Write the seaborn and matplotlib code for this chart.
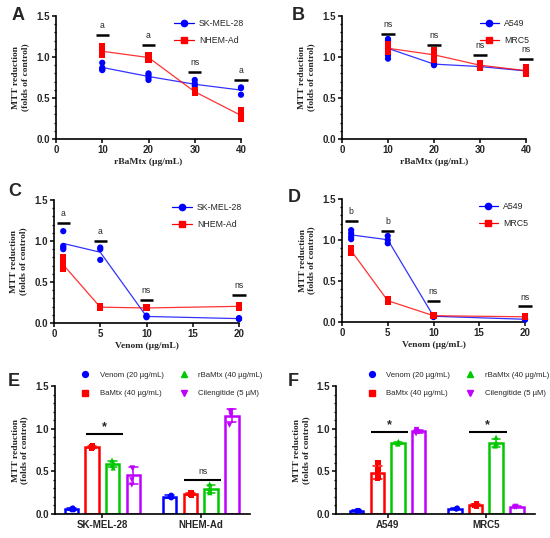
import matplotlib
matplotlib.use("Agg")
import matplotlib.pyplot as plt
import seaborn as sns
import pandas as pd
from matplotlib.lines import Line2D
from matplotlib.ticker import MultipleLocator, FormatStrFormatter

sns.set_theme(style="ticks")
plt.rcParams['font.family'] = ['Liberation Sans', 'DejaVu Sans']
plt.rcParams['font.weight'] = 'bold'

BLUE = "#0000FF"
RED = "#FF0000"
GREEN = "#00C800"
PURPLE = "#C000FF"

# ---- panel A: rBaMtx dose, melanoma ----
a_dose = [10, 20, 30, 40]
a_skmel = [[0.93, 0.87, 0.85, 0.84], [0.80, 0.78, 0.75, 0.72], [0.72, 0.68, 0.65, 0.62], [0.63, 0.62, 0.54]]
a_nhem = [[1.13, 1.07, 1.05, 1.03], [1.02, 0.99, 0.97], [0.60, 0.57, 0.56], [0.35, 0.30, 0.26, 0.24]]
a_sig_y = [1.27, 1.15, 0.82, 0.72]
a_sig = ['a', 'a', 'ns', 'a']

# ---- panel B: rBaMtx dose, lung ----
b_dose = [10, 20, 30, 40]
b_a549 = [[1.22, 1.20, 1.02, 0.98], [0.93, 0.91, 0.90], [0.90, 0.88, 0.87], [0.86, 0.83, 0.80]]
b_mrc5 = [[1.16, 1.10, 1.06], [1.09, 1.02, 0.97], [0.93, 0.90, 0.87], [0.88, 0.82, 0.80]]
b_sig_y = [1.28, 1.15, 1.02, 0.98]
b_sig = ['ns', 'ns', 'ns', 'ns']

# ---- panel C: venom dose, melanoma ----
c_dose = [1, 5, 10, 20]
c_skmel = [[1.12, 0.94, 0.92, 0.90], [0.92, 0.90, 0.77], [0.09, 0.08, 0.07], [0.06, 0.05, 0.05]]
c_nhem = [[0.80, 0.72, 0.66, 0.66], [0.20, 0.19, 0.19], [0.19, 0.18, 0.18], [0.22, 0.20, 0.19]]
c_sig_y = [1.22, 1.00, 0.28, 0.34]
c_sig = ['a', 'a', 'ns', 'ns']

# ---- panel D: venom dose, lung ----
d_dose = [1, 5, 10, 20]
d_a549 = [[1.12, 1.08, 1.04, 1.01], [1.05, 1.00, 0.96], [0.08, 0.07, 0.06], [0.04, 0.03, 0.03]]
d_mrc5 = [[0.90, 0.87, 0.84], [0.28, 0.26, 0.24], [0.08, 0.08, 0.07], [0.07, 0.06, 0.06]]
d_sig_y = [1.23, 1.11, 0.26, 0.19]
d_sig = ['b', 'b', 'ns', 'ns']

# ---- panels E/F: treatments ----
treats = ['Venom (20 µg/mL)', 'BaMtx (40 µg/mL)', 'rBaMtx (40 µg/mL)', 'Cilengitide (5 µM)']
treat_colors = [BLUE, RED, GREEN, PURPLE]
treat_markers = ['o', 's', '^', 'v']

e_cells = ['SK-MEL-28', 'NHEM-Ad']
e_vals = {
    'SK-MEL-28': [[0.07, 0.06, 0.05, 0.05], [0.80, 0.79, 0.78, 0.77], [0.63, 0.60, 0.57, 0.54], [0.54, 0.53, 0.40, 0.34]],
    'NHEM-Ad': [[0.22, 0.21, 0.20, 0.19], [0.25, 0.24, 0.23, 0.22], [0.35, 0.30, 0.27, 0.25], [1.21, 1.20, 1.16, 1.04]],
}
e_sig_y = [0.94, 0.40]
e_sig = ['*', 'ns']

f_cells = ['A549', 'MRC5']
f_vals = {
    'A549': [[0.04, 0.04, 0.03], [0.60, 0.52, 0.46, 0.43, 0.42], [0.85, 0.84, 0.83, 0.82], [0.99, 0.98, 0.96, 0.94]],
    'MRC5': [[0.07, 0.06, 0.06], [0.12, 0.10, 0.09], [0.90, 0.83, 0.80, 0.80], [0.09, 0.08, 0.08]],
}
f_sig_y = [0.96, 0.96]
f_sig = ['*', '*']

W, H = 550, 538
fig = plt.figure(figsize=(W / 100, H / 100), dpi=100)
LEG_FONT = {'family': 'Liberation Sans', 'weight': 'normal'}


def add_ax(left, top, right, bottom):
    return fig.add_axes([left / W, 1 - bottom / H, (right - left) / W, (bottom - top) / H])


def style_ax(ax, lab_x):
    sns.despine(ax=ax)
    for s in ['left', 'bottom']:
        ax.spines[s].set_linewidth(1.2)
        ax.spines[s].set_color('black')
    ax.tick_params(axis='both', which='major', length=3, width=1.1, labelsize=7, pad=1.5, color='black')
    ax.tick_params(axis='y', which='minor', length=1.8, width=0.9, color='black')
    ax.set_ylim(0, 1.5)
    ax.yaxis.set_major_locator(MultipleLocator(0.5))
    ax.yaxis.set_minor_locator(MultipleLocator(0.1))
    ax.yaxis.set_major_formatter(FormatStrFormatter('%.1f'))
    ax.set_ylabel('MTT reduction\n(folds of control)', family=['Liberation Serif'],
                  fontweight='bold', fontsize=6.8, linespacing=1.15)
    ax.yaxis.set_label_coords(lab_x, 0.5)
    ax.set_facecolor('none')


def dose_panel(ax, dose, s1, s2, names, sig_y, sig, half, xlabel, xlim, xticks):
    rows = []
    for name, series in zip(names, [s1, s2]):
        for d, reps in zip(dose, series):
            for v in reps:
                rows.append({'dose': d, 'val': v, 'cell': name})
    df = pd.DataFrame(rows)
    pal = {names[0]: BLUE, names[1]: RED}
    sns.lineplot(data=df, x='dose', y='val', hue='cell', palette=pal, estimator='mean',
                 errorbar=None, linewidth=0.9, alpha=0.8, legend=False, ax=ax)
    sns.scatterplot(data=df, x='dose', y='val', hue='cell', style='cell', palette=pal,
                    markers={names[0]: 'o', names[1]: 's'}, s=20, linewidth=0,
                    legend=False, ax=ax, clip_on=False, zorder=3)
    for d, y, t in zip(dose, sig_y, sig):
        ax.plot([d - half, d + half], [y, y], color='black', lw=1.8, solid_capstyle='butt', clip_on=False)
        ax.text(d, y + 0.06, t, ha='center', va='bottom', fontsize=6.2, fontweight='normal')
    ax.set_xlim(*xlim)
    ax.set_xticks(xticks)
    ax.set_xlabel(xlabel, family=['Liberation Serif'], fontweight='bold', fontsize=6.8, labelpad=2)
    style_ax(ax, -0.145)
    handles = [Line2D([], [], color=BLUE, marker='o', lw=0.9, markersize=4.5),
               Line2D([], [], color=RED, marker='s', lw=0.9, markersize=4.5)]
    ax.legend(handles, names, loc='upper right', bbox_to_anchor=(1.06, 1.04), frameon=False,
              prop={**LEG_FONT, 'size': 6.3}, handlelength=2.2, handletextpad=0.6, labelspacing=0.95)


def bar_panel(ax, cells, vals, sig_y, sig, xlim, lab_x, leg_x):
    rows = []
    for c in cells:
        for t, reps in zip(treats, vals[c]):
            for v in reps:
                rows.append({'cell': c, 'treat': t, 'val': v})
    df = pd.DataFrame(rows)
    pal = dict(zip(treats, treat_colors))
    sns.barplot(data=df, x='cell', y='val', hue='treat', order=cells, hue_order=treats,
                palette=pal, fill=False, errorbar='sd', capsize=0.35, width=0.84, gap=0.35,
                linewidth=1.8, err_kws={'linewidth': 1.1}, legend=False, ax=ax)
    for t, m in zip(treats, treat_markers):
        sub = df[df['treat'] == t]
        sns.stripplot(data=sub, x='cell', y='val', hue='treat', order=cells, hue_order=treats,
                      palette=pal, dodge=True, jitter=0.05, marker=m, size=3.8, linewidth=0,
                      legend=False, ax=ax, zorder=4)
    for i, (y, t) in enumerate(zip(sig_y, sig)):
        ax.plot([i - 0.17, i + 0.21], [y, y], color='black', lw=1.5, solid_capstyle='butt')
        if t == '*':
            ax.text(i + 0.02, y + 0.01, t, ha='center', va='bottom', fontsize=9, fontweight='bold')
        else:
            ax.text(i + 0.02, y + 0.05, t, ha='center', va='bottom', fontsize=6.2, fontweight='normal')
    ax.set_xlim(*xlim)
    ax.set_xlabel('')
    style_ax(ax, lab_x)
    handles = [Line2D([], [], color=c, marker=m, lw=0, markersize=4.2)
               for c, m in zip(treat_colors, treat_markers)]
    ax.legend(handles, treats, loc='upper left', bbox_to_anchor=(leg_x, 1.17), ncol=2, frameon=False,
              prop={**LEG_FONT, 'size': 5.6}, handletextpad=0.9, columnspacing=1.5, labelspacing=1.45)


ax_a = add_ax(56, 16, 241, 139)
dose_panel(ax_a, a_dose, a_skmel, a_nhem, ['SK-MEL-28', 'NHEM-Ad'], a_sig_y, a_sig, 1.45,
           'rBaMtx (µg/mL)', (0, 40), [0, 10, 20, 30, 40])
ax_b = add_ax(342, 16, 526, 139)
dose_panel(ax_b, b_dose, b_a549, b_mrc5, ['A549', 'MRC5'], b_sig_y, b_sig, 1.45,
           'rBaMtx (µg/mL)', (0, 40), [0, 10, 20, 30, 40])
ax_c = add_ax(54, 200, 239, 323)
dose_panel(ax_c, c_dose, c_skmel, c_nhem, ['SK-MEL-28', 'NHEM-Ad'], c_sig_y, c_sig, 0.72,
           'Venom (µg/mL)', (0, 20), [0, 5, 10, 15, 20])
ax_d = add_ax(342, 199, 525, 322)
dose_panel(ax_d, d_dose, d_a549, d_mrc5, ['A549', 'MRC5'], d_sig_y, d_sig, 0.72,
           'Venom (µg/mL)', (0, 20), [0, 5, 10, 15, 20])
ax_e = add_ax(55, 386, 250, 514)
bar_panel(ax_e, e_cells, e_vals, e_sig_y, e_sig, (-0.48, 1.5), -0.135, 0.08)
ax_f = add_ax(336, 386, 535, 514)
bar_panel(ax_f, f_cells, f_vals, f_sig_y, f_sig, (-0.525, 1.5), -0.13, 0.105)

for letter, (x, y) in zip('ABCDEF', [(12, 16), (292, 16), (8, 191), (288, 197), (8, 382), (288, 382)]):
    fig.text(x / W, 1 - y / H, letter, fontsize=13, fontweight='bold', ha='left', va='center')

fig.savefig('out.png', dpi=100)
